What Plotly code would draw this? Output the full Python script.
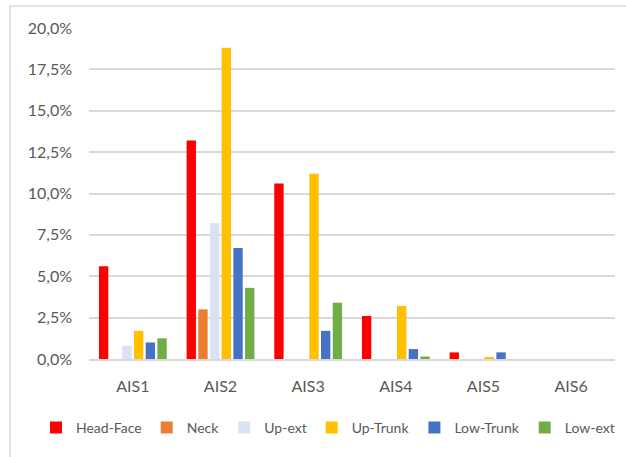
import plotly.graph_objects as go

# AIS severity levels and share of injuries (%) per body region
categories = ["AIS1", "AIS2", "AIS3", "AIS4", "AIS5", "AIS6"]

head_face = [5.6, 13.2, 10.6, 2.6, 0.4, 0.0]
neck = [0.0, 3.0, 0.0, 0.0, 0.0, 0.0]
up_ext = [0.8, 8.2, 0.0, 0.0, 0.0, 0.0]
up_trunk = [1.7, 18.8, 11.2, 3.2, 0.1, 0.0]
low_trunk = [1.0, 6.7, 1.7, 0.6, 0.4, 0.0]
low_ext = [1.25, 4.3, 3.4, 0.15, 0.0, 0.0]

y_ticks = [0, 2.5, 5, 7.5, 10, 12.5, 15, 17.5, 20]
y_ticktext = [f"{v:.1f}%".replace(".", ",") for v in y_ticks]

SERIES = [
    ("Head-Face", head_face, "#FF0000"),
    ("Neck", neck, "#ED7D31"),
    ("Up-ext", up_ext, "#DAE3F3"),
    ("Up-Trunk", up_trunk, "#FFC000"),
    ("Low-Trunk", low_trunk, "#4472C4"),
    ("Low-ext", low_ext, "#70AD47"),
]

FONT = "Lato, 'Open Sans', sans-serif"
TEXT = "#595959"
GRID = "#D9D9D9"

W, H = 626, 457
M = dict(l=89, r=11, t=28, b=98)

fig = go.Figure()
for name, vals, color in SERIES:
    fig.add_trace(go.Bar(
        x=categories,
        y=vals,
        name=name,
        marker=dict(color=color, line=dict(width=0)),
    ))

# outer chart frame (only top and left edges fall inside the picture)
pw = W - M["l"] - M["r"]
ph = H - M["t"] - M["b"]
fig.add_shape(
    type="rect", xref="paper", yref="paper",
    x0=(10 - M["l"]) / pw, x1=(W + 20 - M["l"]) / pw,
    y0=-(M["b"] + 20) / ph, y1=1 + (M["t"] - 6) / ph,
    line=dict(color=GRID, width=1.5), fillcolor="rgba(0,0,0,0)",
    layer="below",
)

fig.update_layout(
    width=W,
    height=H,
    margin=dict(M, autoexpand=False),
    barmode="group",
    bargap=0.2,
    bargroupgap=0.2,
    plot_bgcolor="white",
    paper_bgcolor="white",
    font=dict(family=FONT, size=16, color=TEXT),
    showlegend=True,
    legend=dict(
        orientation="h",
        x=(36 - M["l"]) / pw, xanchor="left",
        y=-0.208, yanchor="middle",
        font=dict(size=14, color=TEXT),
        itemwidth=30,
        tracegroupgap=0,
        traceorder="normal",
    ),
    xaxis=dict(
        showline=True,
        linecolor=GRID,
        linewidth=1.5,
        ticks="",
        ticklabelstandoff=12,
        tickfont=dict(size=16, color=TEXT),
    ),
    yaxis=dict(
        range=[0, 20],
        tickvals=y_ticks,
        ticktext=y_ticktext,
        showgrid=True,
        gridcolor=GRID,
        gridwidth=1.5,
        zeroline=False,
        showline=False,
        ticklabelstandoff=16,
        tickfont=dict(size=16, color=TEXT),
    ),
)

# drop the browser's default 8px body margin so the figure sits at the page corner
fig.write_html(
    "out.html",
    config={"displayModeBar": False},
    post_script="document.body.style.margin='0';",
)
